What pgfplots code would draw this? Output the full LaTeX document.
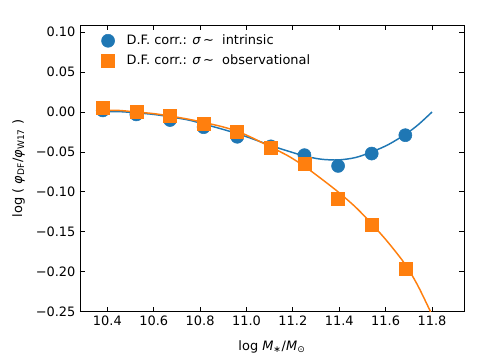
\documentclass[border=0pt]{standalone}
\usepackage{fontspec}
\setmainfont{DejaVu Sans}
\usepackage{pgfplots}
\pgfplotsset{compat=1.18}

\definecolor{mplblue}{HTML}{1F77B4}
\definecolor{mplorange}{HTML}{FF7F0E}

\begin{document}
\fontsize{9.7}{11.5}\selectfont
\begin{tikzpicture}
\begin{axis}[
    at={(0,0)}, anchor=south west,
    width=288pt, height=215pt,
    scale only axis,
    xmin=10.282, xmax=11.938,
    ymin=-0.25, ymax=0.109,
    xtick={10.4,10.6,10.8,11.0,11.2,11.4,11.6,11.8},
    xticklabels={10.4,10.6,10.8,11.0,11.2,11.4,11.6,11.8},
    ytick={-0.25,-0.2,-0.15,-0.1,-0.05,0,0.05,0.1},
    yticklabels={−0.25,−0.20,−0.15,−0.10,−0.05,0.00,0.05,0.10},
    tick align=inside,
    xtick pos=both, ytick pos=both,
    major tick length=3.7pt,
    tick style={black, line width=0.6pt},
    axis line style={line width=0.6pt},
    ticklabel style={font=\fontsize{9.7}{11.5}\selectfont},
    xlabel={log \textit{M}\textsubscript{∗}/\textit{M}\textsubscript{⊙}},
    ylabel={log ( \textit{φ}\textsubscript{DF}/\textit{φ}\textsubscript{W17} )},
    xlabel style={yshift=-4pt},
    ylabel style={yshift=1.5pt},
    legend style={draw=none, fill=none, at={(0.045,0.985)}, anchor=north west,
        font=\fontsize{9.7}{11.5}\selectfont, row sep=2pt, column sep=7pt},
    legend cell align=left,
]
\addplot[only marks, mark=*, mark size=4.9pt, color=mplblue, mark options={draw=mplblue, fill=mplblue}] coordinates {
    (10.38,0.002) (10.525,-0.003) (10.67,-0.010) (10.815,-0.019) (10.96,-0.031)
    (11.105,-0.043) (11.25,-0.054) (11.395,-0.0675) (11.54,-0.052) (11.685,-0.029)
};
\addlegendentry{D.F. corr.: \textit{σ}\,∼\ \ intrinsic}
\addplot[only marks, mark=square*, mark size=4.9pt, color=mplorange, mark options={draw=mplorange, fill=mplorange}] coordinates {
    (10.38,0.005) (10.525,0.000) (10.67,-0.005) (10.815,-0.015) (10.96,-0.025)
    (11.105,-0.045) (11.25,-0.065) (11.395,-0.109) (11.54,-0.141) (11.685,-0.196)
};
\addlegendentry{D.F. corr.: \textit{σ}\,∼\ \ observational}
\addplot[mplblue, line width=1.1pt, smooth, forget plot] coordinates {
    (10.38,0.000) (10.45,0.0005) (10.525,-0.001) (10.6,-0.003) (10.67,-0.006)
    (10.75,-0.010) (10.815,-0.015) (10.89,-0.021) (10.96,-0.027) (11.03,-0.034)
    (11.105,-0.042) (11.18,-0.049) (11.25,-0.055) (11.32,-0.059) (11.395,-0.060)
    (11.47,-0.057) (11.54,-0.050) (11.61,-0.041) (11.685,-0.028) (11.74,-0.016)
    (11.8,0.000)
};
\addplot[mplorange, line width=1.1pt, smooth, forget plot] coordinates {
    (10.38,0.002) (10.45,0.002) (10.525,0.000) (10.6,-0.002) (10.67,-0.005)
    (10.75,-0.009) (10.815,-0.013) (10.89,-0.018) (10.96,-0.024) (11.03,-0.033)
    (11.105,-0.044) (11.18,-0.055) (11.25,-0.068) (11.32,-0.083) (11.395,-0.100)
    (11.47,-0.119) (11.54,-0.140) (11.61,-0.163) (11.685,-0.191) (11.74,-0.218)
    (11.8,-0.254)
};
\end{axis}
\pgfresetboundingbox
\path[use as bounding box] (-60pt,-33pt) rectangle (314.25pt,233.75pt);
\end{tikzpicture}
\end{document}
